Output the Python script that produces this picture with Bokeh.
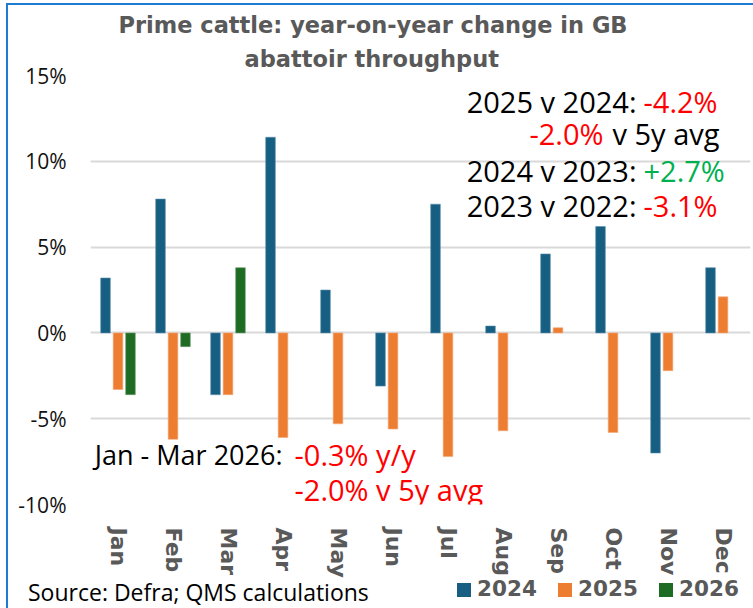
from bokeh.plotting import figure
from bokeh.layouts import column
from bokeh.models import (ColumnDataSource, FactorRange, Range1d, FixedTicker,
                          PrintfTickFormatter, Label, Title, Div)
from bokeh.transform import dodge
from bokeh.embed import file_html
from bokeh.resources import INLINE

# ---------------- data ----------------
months = ["Jan", "Feb", "Mar", "Apr", "May", "Jun",
          "Jul", "Aug", "Sep", "Oct", "Nov", "Dec"]
y2024 = [3.2, 7.8, -3.6, 11.4, 2.5, -3.1, 7.5, 0.4, 4.6, 6.2, -7.0, 3.8]
y2025 = [-3.3, -6.2, -3.6, -6.1, -5.3, -5.6, -7.2, -5.7, 0.3, -5.8, -2.2, 2.1]
months_2026 = ["Jan", "Feb", "Mar"]
y2026 = [-3.6, -0.8, 3.8]
y_ticks = [-10, -5, 0, 5, 10, 15]
series_names = ["2024", "2025", "2026"]

C2024 = "#175f82"
C2025 = "#ed7d31"
C2026 = "#1e6b24"
series_colors = [C2024, C2025, C2026]
GREY = "#595959"
RED = "#ff0000"
GREEN = "#00b050"

src_main = ColumnDataSource(dict(month=months, y2024=y2024, y2025=y2025))
src_2026 = ColumnDataSource(dict(month=months_2026, y2026=y2026))

p = figure(width=745, height=575, output_backend="svg", toolbar_location=None,
           x_range=FactorRange(factors=months, range_padding=0),
           y_range=Range1d(-10, 15),
           min_border_left=82, min_border_right=3, min_border_top=70, min_border_bottom=72,
           outline_line_color=None, background_fill_color="white", border_fill_color="white")

off = 0.227
bw = 0.175
p.vbar(x=dodge("month", -off, range=p.x_range), top="y2024", bottom=0, width=bw,
       source=src_main, fill_color=C2024, line_color="#5b8fab", line_width=0.6)
p.vbar(x=dodge("month", 0, range=p.x_range), top="y2025", bottom=0, width=bw,
       source=src_main, fill_color=C2025, line_color="#f3a878", line_width=0.6)
p.vbar(x=dodge("month", off, range=p.x_range), top="y2026", bottom=0, width=bw,
       source=src_2026, fill_color=C2026, line_color="#6b9a6e", line_width=0.6)

# axes
p.yaxis.ticker = FixedTicker(ticks=y_ticks)
p.yaxis.formatter = PrintfTickFormatter(format="%d%%")
p.yaxis.axis_line_color = None
p.yaxis.major_tick_line_color = None
p.yaxis.minor_tick_line_color = None
p.yaxis.major_label_text_font = "Open Sans"
p.yaxis.major_label_text_font_size = "21px"
p.yaxis.major_label_text_color = "#111111"
p.yaxis.major_label_standoff = 18

p.xaxis.axis_line_color = None
p.xaxis.major_tick_line_color = None
p.xaxis.major_label_orientation = "vertical"
p.xaxis.major_label_text_font = "DejaVu Sans"
p.xaxis.major_label_text_font_style = "bold"
p.xaxis.major_label_text_font_size = "22px"
p.xaxis.major_label_text_color = GREY
p.xaxis.major_label_standoff = 17

p.xgrid.grid_line_color = None
p.ygrid.grid_line_color = "#d9d9d9"
p.ygrid.grid_line_width = 2

# title (two lines, line 2 nearest the frame)
p.add_layout(Title(text="abattoir throughput", align="left", offset=154, standoff=7,
                   text_font="DejaVu Sans", text_font_style="bold",
                   text_font_size="22.5px", text_color=GREY), "above")
p.add_layout(Title(text="Prime cattle: year-on-year change in GB", align="left", offset=28,
                   standoff=5, text_font="DejaVu Sans", text_font_style="bold",
                   text_font_size="22.5px", text_color=GREY), "above")

def lab(x, y, txt, color, align, size="29px"):
    p.add_layout(Label(x=x, y=y, x_units="screen", y_units="screen", text=txt,
                       text_align=align, text_baseline="alphabetic",
                       text_font="Open Sans", text_font_size=size, text_color=color))

lab(546, 403, "2025 v 2024:", "black", "right")
lab(553, 403, "-4.2%", RED, "left")
lab(513, 371, "-2.0%", RED, "right")
lab(522, 371, "v 5y avg", "black", "left")
lab(546, 334, "2024 v 2023:", "black", "right")
lab(553, 334, "+2.7%", GREEN, "left")
lab(546, 299, "2023 v 2022:", "black", "right")
lab(553, 299, "-3.1%", RED, "left")

lab(192, 50, "Jan - Mar 2026:", "black", "right", "27px")
lab(204, 50, "-0.3% y/y", RED, "left")
lab(204, 15, "-2.0% v 5y avg", RED, "left")

# ---- footer strip: source note + legend (HTML) ----
legend_x = [449, 550, 651]
parts = ['<div style="position:relative;width:745px;height:28px;margin:0;padding:0;">',
         '<span style="position:absolute;left:20px;top:-2px;font-family:\'Open Sans\';'
         'font-size:23px;line-height:28px;color:black;white-space:nowrap;">'
         'Source: Defra; QMS calculations</span>']
for name, col, lx in zip(series_names, series_colors, legend_x):
    parts.append(f'<span style="position:absolute;left:{lx}px;top:3px;width:14px;height:14px;'
                 f'background:{col};"></span>')
    parts.append(f'<span style="position:absolute;left:{lx + 20}px;top:-3px;'
                 f'font-family:\'DejaVu Sans\';font-weight:bold;font-size:21.5px;line-height:24px;'
                 f'color:{GREY};white-space:nowrap;">{name}</span>')
parts.append('</div>')
footer = Div(text="".join(parts), width=745, height=28, margin=0)

lay = column(p, footer, spacing=0)
lay.styles = {"border-left": "2px solid #1f7bd0", "border-top": "2px solid #1f7bd0",
              "margin-left": "6px", "margin-top": "3px"}

open("out.html", "w").write(file_html(lay, INLINE))
